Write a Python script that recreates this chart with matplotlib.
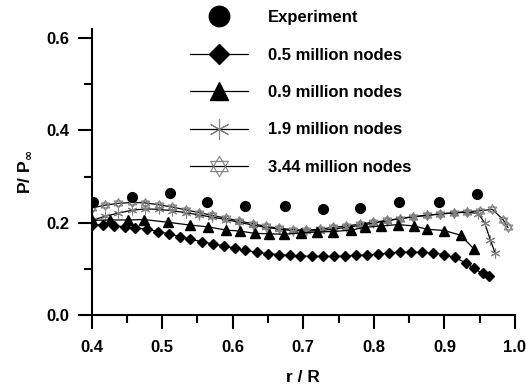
import matplotlib
matplotlib.use('Agg')
import matplotlib.pyplot as plt
from matplotlib.path import Path
import numpy as np

plt.rcParams['font.family'] = ['Liberation Sans', 'DejaVu Sans']
plt.rcParams['font.weight'] = 'bold'

# ---- data ----
x_exp = [0.402, 0.457, 0.511, 0.563, 0.618, 0.674, 0.728, 0.781, 0.836, 0.892, 0.946]
y_exp = [0.245, 0.256, 0.264, 0.245, 0.236, 0.237, 0.229, 0.232, 0.245, 0.244, 0.262]

x_05 = [0.400, 0.416, 0.431, 0.447, 0.462, 0.478, 0.494, 0.509, 0.525, 0.540, 0.556,
        0.572, 0.587, 0.603, 0.618, 0.634, 0.650, 0.665, 0.681, 0.696, 0.712, 0.728,
        0.743, 0.759, 0.774, 0.790, 0.806, 0.821, 0.837, 0.852, 0.868, 0.884, 0.899,
        0.915, 0.930, 0.942, 0.954, 0.963]
y_05 = [0.195, 0.196, 0.194, 0.191, 0.189, 0.186, 0.181, 0.176, 0.170, 0.164, 0.159,
        0.154, 0.150, 0.145, 0.140, 0.136, 0.133, 0.131, 0.129, 0.128, 0.127, 0.127,
        0.127, 0.128, 0.129, 0.130, 0.132, 0.134, 0.136, 0.136, 0.136, 0.134, 0.131,
        0.125, 0.113, 0.101, 0.090, 0.084]

x_09 = [0.400, 0.426, 0.452, 0.474, 0.508, 0.539, 0.565, 0.591, 0.610, 0.631, 0.652,
        0.673, 0.697, 0.720, 0.742, 0.768, 0.787, 0.810, 0.834, 0.857, 0.875, 0.900,
        0.923, 0.942]
y_09 = [0.205, 0.206, 0.206, 0.207, 0.201, 0.195, 0.191, 0.184, 0.182, 0.177, 0.176,
        0.175, 0.178, 0.180, 0.181, 0.184, 0.190, 0.193, 0.196, 0.193, 0.186, 0.183,
        0.173, 0.143]

x_19 = [0.400, 0.419, 0.438, 0.457, 0.476, 0.495, 0.514, 0.533, 0.552, 0.571, 0.590,
        0.609, 0.628, 0.647, 0.666, 0.685, 0.704, 0.723, 0.742, 0.761, 0.780, 0.799,
        0.818, 0.837, 0.856, 0.875, 0.894, 0.913, 0.932, 0.948, 0.957, 0.965, 0.972]
y_19 = [0.205, 0.214, 0.221, 0.227, 0.230, 0.229, 0.226, 0.222, 0.217, 0.212, 0.207,
        0.201, 0.195, 0.190, 0.186, 0.183, 0.182, 0.183, 0.186, 0.190, 0.194, 0.199,
        0.204, 0.209, 0.213, 0.216, 0.219, 0.221, 0.223, 0.220, 0.200, 0.163, 0.134]

x_344 = [0.400, 0.419, 0.438, 0.457, 0.476, 0.495, 0.514, 0.533, 0.552, 0.571, 0.590,
         0.609, 0.628, 0.647, 0.666, 0.685, 0.704, 0.723, 0.742, 0.761, 0.780, 0.799,
         0.818, 0.837, 0.856, 0.875, 0.894, 0.913, 0.932, 0.951, 0.968, 0.983, 0.990]
y_344 = [0.232, 0.238, 0.242, 0.244, 0.243, 0.239, 0.234, 0.228, 0.222, 0.216, 0.210,
         0.204, 0.198, 0.192, 0.188, 0.185, 0.184, 0.186, 0.190, 0.193, 0.197, 0.201,
         0.205, 0.209, 0.213, 0.216, 0.219, 0.222, 0.224, 0.226, 0.229, 0.207, 0.190]

# star of David marker
hexagram = Path(
    [(0, 1), (-0.866, -0.5), (0.866, -0.5), (0, 1),
     (0, -1), (-0.866, 0.5), (0.866, 0.5), (0, -1)],
    [Path.MOVETO, Path.LINETO, Path.LINETO, Path.CLOSEPOLY,
     Path.MOVETO, Path.LINETO, Path.LINETO, Path.CLOSEPOLY])

fig = plt.figure(figsize=(5.26, 3.84), dpi=100)
ax = fig.add_axes([0.1743, 0.1797, 0.8047, 0.7448])

ax.plot(x_344, y_344, color='black', lw=0.9, marker=hexagram, ms=7,
        mfc='none', mec='#808080', mew=0.8, label='3.44 million nodes')
ax.plot(x_19, y_19, color='black', lw=0.9, marker=(6, 2, 0), ms=7,
        mec='#808080', mew=0.8, label='1.9 million nodes')
ax.plot(x_09, y_09, color='black', lw=0.9, marker='^', ms=6.5,
        mfc='black', mec='black', label='0.9 million nodes')
ax.plot(x_05, y_05, color='black', lw=0.9, marker='D', ms=5,
        mfc='black', mec='black', label='0.5 million nodes')
ax.plot(x_exp, y_exp, ls='none', marker='o', ms=7, color='black', label='Experiment')

ax.set_xlim(0.4, 1.0)
ax.set_ylim(0, 0.62)
ax.set_xticks(np.arange(0.4, 1.01, 0.1))
ax.set_xticks(np.arange(0.45, 1.0, 0.1), minor=True)
ax.set_yticks([0.0, 0.2, 0.4, 0.6])
ax.set_yticks([0.1, 0.3, 0.5], minor=True)
ax.xaxis.set_major_formatter(matplotlib.ticker.FormatStrFormatter('%.1f'))
ax.yaxis.set_major_formatter(matplotlib.ticker.FormatStrFormatter('%.1f'))

for s in ['top', 'right']:
    ax.spines[s].set_visible(False)
for s in ['left', 'bottom']:
    ax.spines[s].set_linewidth(1.5)
ax.tick_params(which='major', direction='out', length=10, width=1.5, labelsize=12)
ax.tick_params(axis='x', which='major', pad=8)
ax.tick_params(axis='y', which='major', pad=6)
ax.tick_params(which='minor', direction='out', length=5.5, width=1.5)
for lab in ax.get_xticklabels() + ax.get_yticklabels():
    lab.set_fontweight('bold')

ax.set_xlabel('r / R', fontsize=12.5, fontweight='bold', labelpad=11)
ax.set_ylabel(r'P/ P$_{\infty}$', fontsize=12.5, fontweight='bold', labelpad=10)

handles, labels = ax.get_legend_handles_labels()
leg = fig.legend(handles[::-1], labels[::-1], loc='upper left',
                 bbox_to_anchor=(190 / 526, 1 - 10 / 384), frameon=False,
                 markerscale=2.1, handlelength=3.5, handletextpad=1.15,
                 labelspacing=1.35, borderpad=0, borderaxespad=0,
                 prop={'weight': 'bold', 'size': 12})

fig.savefig('out.png', dpi=100)
